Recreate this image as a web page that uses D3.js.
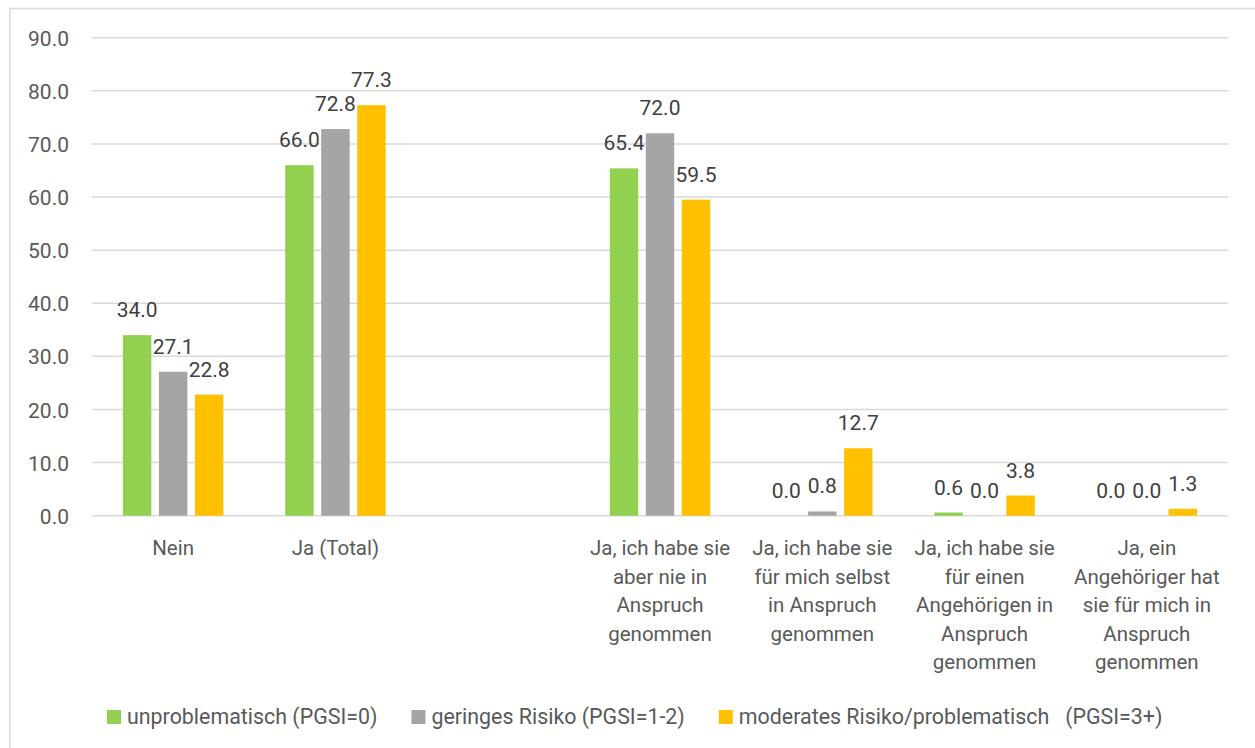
<!DOCTYPE html>
<html>
<head>
<meta charset="utf-8">
<script src="https://cdn.jsdelivr.net/npm/d3@7"></script>
<style>
  body { margin: 0; background: #fff; }
  text { font-family: Roboto, "Open Sans", sans-serif; }
</style>
</head>
<body>
<div id="chart"></div>
<script>
// Kategorien (Zeilen wie in der Vorlage umgebrochen)
const categories = ["Nein", "Ja (Total)", "leer", "Ja, nie", "Ja, selbst", "Ja, für Angehörigen", "Ja, Angehöriger für mich"];
const categoryLines = [
  ["Nein"],
  ["Ja (Total)"],
  [],
  ["Ja, ich habe sie", "aber nie in", "Anspruch", "genommen"],
  ["Ja, ich habe sie", "für mich selbst", "in Anspruch", "genommen"],
  ["Ja, ich habe sie", "für einen", "Angehörigen in", "Anspruch", "genommen"],
  ["Ja, ein", "Angehöriger hat", "sie für mich in", "Anspruch", "genommen"]
];

const seriesNames = ["unproblematisch (PGSI=0)", "geringes Risiko (PGSI=1-2)", "moderates Risiko/problematisch   (PGSI=3+)"];
const seriesColors = ["#92d050", "#a5a5a5", "#ffc000"];

const valuesUnproblematisch = [34.0, 66.0, null, 65.4, 0.0, 0.6, 0.0];
const valuesGeringes = [27.1, 72.8, null, 72.0, 0.8, 0.0, 0.0];
const valuesModerat = [22.8, 77.3, null, 59.5, 12.7, 3.8, 1.3];
const seriesValues = [valuesUnproblematisch, valuesGeringes, valuesModerat];

const yTicks = [0, 10, 20, 30, 40, 50, 60, 70, 80, 90];

const width = 1255;
const height = 748;
const plot = { left: 92, right: 1228, top: 37.7, bottom: 515.7 };

const svg = d3.select("#chart")
  .append("svg")
  .attr("width", width)
  .attr("height", height);

// Rahmen
svg.append("rect")
  .attr("x", 10)
  .attr("y", 8.5)
  .attr("width", 1400)
  .attr("height", 900)
  .attr("fill", "#fff")
  .attr("stroke", "#d9d9d9")
  .attr("stroke-width", 1.5);

const x0 = d3.scaleBand()
  .domain(categories)
  .range([plot.left, plot.right])
  .padding(0);

const groupWidth = 108;
const x1 = d3.scaleBand()
  .domain(d3.range(seriesNames.length))
  .range([0, groupWidth])
  .paddingInner(0.21)
  .paddingOuter(0.105);

const y = d3.scaleLinear()
  .domain([0, 90])
  .range([plot.bottom, plot.top]);

// Gitterlinien
svg.append("g")
  .selectAll("line")
  .data(yTicks)
  .enter()
  .append("line")
  .attr("x1", plot.left)
  .attr("x2", plot.right)
  .attr("y1", d => y(d))
  .attr("y2", d => y(d))
  .attr("stroke", "#d9d9d9")
  .attr("stroke-width", 1.5);

// Y-Achse
const yAxis = svg.append("g")
  .attr("transform", `translate(${plot.left},0)`)
  .call(d3.axisLeft(y).tickValues(yTicks).tickFormat(d3.format(".1f")).tickSize(0).tickPadding(23));
yAxis.select(".domain").remove();
yAxis.selectAll("text")
  .attr("fill", "#595959")
  .style("font-size", "21px")
  .attr("dy", "0.36em");

// Balken
const flat = [];
seriesValues.forEach((vals, s) => {
  vals.forEach((v, i) => {
    if (v !== null) flat.push({ s: s, cat: categories[i], value: v });
  });
});

const barX = d => x0(d.cat) + (x0.bandwidth() - groupWidth) / 2 + x1(d.s);

svg.append("g")
  .selectAll("rect")
  .data(flat)
  .enter()
  .append("rect")
  .attr("x", barX)
  .attr("y", d => y(d.value))
  .attr("width", x1.bandwidth())
  .attr("height", d => y(0) - y(d.value))
  .attr("fill", d => seriesColors[d.s]);

// Werte über den Balken
svg.append("g")
  .selectAll("text")
  .data(flat)
  .enter()
  .append("text")
  .attr("x", d => barX(d) + x1.bandwidth() / 2)
  .attr("y", d => y(d.value) - 18)
  .attr("text-anchor", "middle")
  .attr("fill", "#404040")
  .style("font-size", "21px")
  .text(d => d3.format(".1f")(d.value));

// Kategorienbeschriftung
const catLabels = svg.append("g")
  .selectAll("text")
  .data(categories)
  .enter()
  .append("text")
  .attr("x", d => x0(d) + x0.bandwidth() / 2)
  .attr("y", 555)
  .attr("text-anchor", "middle")
  .attr("fill", "#595959")
  .style("font-size", "20.5px");

catLabels.each(function(d, i) {
  const t = d3.select(this);
  categoryLines[i].forEach((line, j) => {
    t.append("tspan")
      .attr("x", x0(d) + x0.bandwidth() / 2)
      .attr("dy", j === 0 ? 0 : 28.5)
      .text(line);
  });
});

// Legende
const legend = svg.append("g");
let lx = 107;
seriesNames.forEach((name, i) => {
  legend.append("rect")
    .attr("x", lx)
    .attr("y", 710)
    .attr("width", 14)
    .attr("height", 14)
    .attr("fill", seriesColors[i]);
  const t = legend.append("text")
    .attr("x", lx + 20)
    .attr("y", 724)
    .attr("fill", "#595959")
    .style("font-size", "21.4px")
    .style("white-space", "pre")
    .text(name);
  lx = lx + 20 + t.node().getComputedTextLength() + 34;
});
</script>
</body>
</html>
